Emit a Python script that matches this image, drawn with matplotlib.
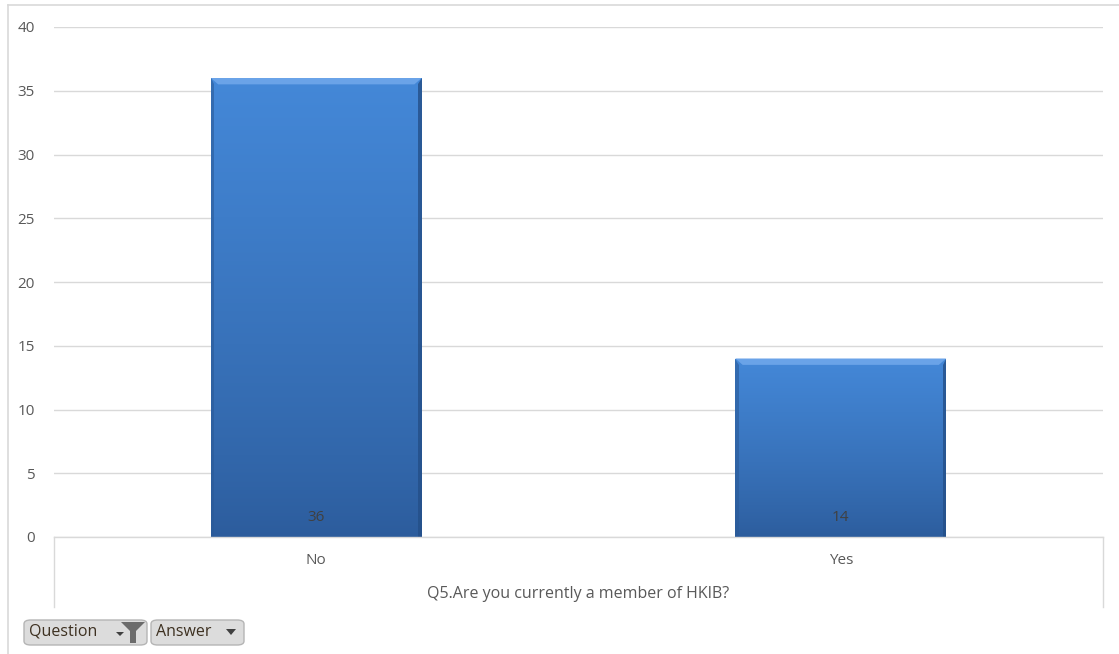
import matplotlib
matplotlib.use("Agg")
import matplotlib.pyplot as plt
import numpy as np
from matplotlib.patches import FancyBboxPatch, Rectangle, Polygon
from matplotlib.lines import Line2D

categories = ["No", "Yes"]
counts = [36, 14]
yticks = [0, 5, 10, 15, 20, 25, 30, 35, 40]
axis_title = "Q5.Are you currently a member of HKIB?"

plt.rcParams['font.family'] = ['Open Sans', 'DejaVu Sans']
W, H = 1119, 654
fig = plt.figure(figsize=(W / 100, H / 100), dpi=100)

def fx(px):
    return px / W

def fy(py):
    return 1 - py / H

ax = fig.add_axes([fx(54), fy(537), fx(1103) - fx(54), fy(27) - fy(537)])
ax.set_xlim(-0.5, 1.5)
ax.set_ylim(0, 40)
ax.set_yticks(yticks)
ax.set_xticks([])
ax.tick_params(axis='y', length=0, pad=14, labelsize=11, labelcolor='#595959')
for s in ax.spines.values():
    s.set_visible(False)
ax.grid(axis='y', color='#d9d9d9', linewidth=1)
ax.set_axisbelow(True)

# vertical gradient for bars: light at top, darker at base
grad = np.linspace(0, 1, 256).reshape(-1, 1) ** 0.8
top_c = np.array([0x44, 0x88, 0xd8]) / 255
bot_c = np.array([0x2c, 0x5c, 0x9c]) / 255
img = grad[..., None] * top_c + (1 - grad[..., None]) * bot_c

width = 0.402
for i, v in enumerate(counts):
    x0 = i - width / 2
    rect = Rectangle((x0, 0), width, v, facecolor='none', edgecolor='none')
    ax.add_patch(rect)
    im = ax.imshow(img, extent=[x0, x0 + width, 0, v], origin='lower',
                   aspect='auto', zorder=2)
    im.set_clip_path(rect)
    # bevel: bright top strip and darker side edges
    dy = 0.5
    dx = 0.014
    ax.add_patch(Polygon([[x0, v], [x0 + width, v], [x0 + width - dx, v - dy],
                          [x0 + dx, v - dy]], closed=True,
                         facecolor='#6aa3e8', edgecolor='none', zorder=3))
    ax.add_patch(Polygon([[x0 + width, v], [x0 + width, 0],
                          [x0 + width - dx * 0.5, 0], [x0 + width - dx * 0.5, v - dy]],
                         closed=True, facecolor='#244f88', edgecolor='none',
                         alpha=0.8, zorder=3))
    ax.add_patch(Polygon([[x0, v], [x0, 0], [x0 + dx * 0.5, 0], [x0 + dx * 0.5, v - dy]],
                         closed=True, facecolor='#2a5a98', edgecolor='none',
                         alpha=0.6, zorder=3))
    ax.text(i, 1.5, str(v), ha='center', va='center', fontsize=11,
            color='#404040', zorder=4)

ax.set_xlim(-0.5, 1.5)
ax.set_ylim(0, 40)

# category box under the plot area
lc = '#d9d9d9'
fig.add_artist(Line2D([fx(54), fx(1103)], [fy(537), fy(537)], color=lc, lw=1))
fig.add_artist(Line2D([fx(54), fx(54)], [fy(537), fy(607)], color=lc, lw=1))
fig.add_artist(Line2D([fx(1103), fx(1103)], [fy(537), fy(607)], color=lc, lw=1))
for i, c in enumerate(categories):
    xc = fx(54) + (i + 0.5) * (fx(1103) - fx(54)) / 2
    fig.text(xc, fy(560), c, ha='center', va='center', fontsize=11, color='#595959')
fig.text((fx(54) + fx(1103)) / 2, fy(594), axis_title, ha='center', va='center',
         fontsize=11.5, color='#595959')

# outer chart frame
fig.add_artist(Line2D([fx(8), fx(8)], [fy(5), 0], color=lc, lw=1.2))
fig.add_artist(Line2D([fx(8), 1], [fy(5), fy(5)], color=lc, lw=1.2))

# field buttons
def button(x0, x1, label):
    b = FancyBboxPatch((fx(x0), fy(645)), fx(x1) - fx(x0), fy(620) - fy(645),
                       boxstyle="round,pad=0,rounding_size=0.006",
                       transform=fig.transFigure, facecolor='#dcdcdc',
                       edgecolor='#b5b5b5', lw=1)
    fig.add_artist(b)
    fig.text(fx(x0 + 5), fy(632), label, ha='left', va='center', fontsize=11.5,
             color='#3d3020')

button(24, 147, "Question")
button(151, 244, "Answer")
# filter funnel icon
fig.add_artist(Polygon([[fx(121), fy(622)], [fx(145), fy(622)], [fx(136), fy(631)],
                        [fx(136), fy(643)], [fx(130), fy(643)], [fx(130), fy(631)]],
                       closed=True, transform=fig.transFigure,
                       facecolor='#6b6b6b', edgecolor='none'))
fig.add_artist(Polygon([[fx(116), fy(632)], [fx(124), fy(632)], [fx(120), fy(636)]],
                       closed=True, transform=fig.transFigure,
                       facecolor='#404040', edgecolor='none'))
fig.add_artist(Polygon([[fx(226), fy(629)], [fx(236), fy(629)], [fx(231), fy(635)]],
                       closed=True, transform=fig.transFigure,
                       facecolor='#404040', edgecolor='none'))

fig.savefig("out.png", dpi=100)
